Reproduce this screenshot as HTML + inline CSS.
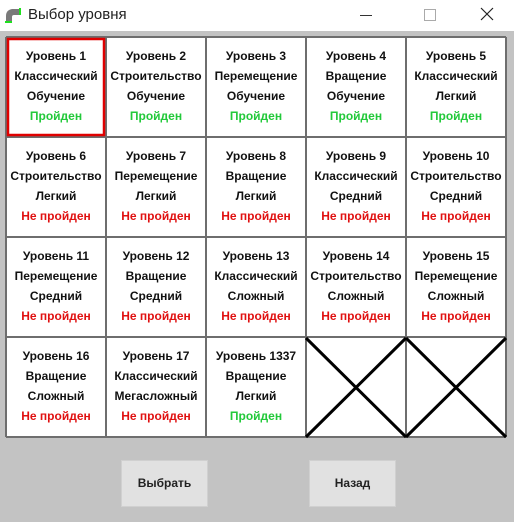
<!DOCTYPE html>
<html><head><meta charset="utf-8"><style>
body{margin:0;width:516px;height:526px;background:#fff;position:relative;overflow:hidden;font-family:"Liberation Sans","DejaVu Sans",sans-serif}
.title{position:absolute;left:28px;top:6px;font-size:15px;color:#222}
.gray{position:absolute;left:0;top:31px;width:514px;height:491px;background:#c3c3c3}
.grid{position:absolute;left:6px;top:37px;width:500px;height:400px;background:#fff}
.cell{position:absolute;width:100px;height:100px;box-sizing:border-box;text-align:center;font-weight:bold;font-size:12px;color:#111}
.cell div{height:20px;line-height:20px}
.g{color:#22c93a}.r{color:#e01010}
.btn{position:absolute;top:460px;width:87px;height:47px;background:#e1e1e1;border:1px solid #d0d0d0;box-sizing:border-box;font-size:12px;font-weight:bold;text-align:center;line-height:45px;color:#222}
</style></head><body>
<svg style="position:absolute;left:3px;top:4px" width="20" height="20"><path d="M3 18 V12 Q3 6 9 5 H16 V11 H11 Q9 11 9 13 V18 Z" fill="#7a7a7a"/><path d="M2 18 H9" stroke="#1ee01e" stroke-width="2"/><path d="M17 4 V11" stroke="#1ee01e" stroke-width="2"/></svg>
<div class="title">Выбор уровня</div>
<div style="position:absolute;left:360px;top:15px;width:12px;height:1px;background:#333"></div>
<div style="position:absolute;left:424px;top:9px;width:10px;height:10px;border:1px solid #aaa"></div>
<svg style="position:absolute;left:480px;top:7px" width="14" height="14"><path d="M1 1L13 13M13 1L1 13" stroke="#222" stroke-width="1.2"/></svg>
<div class="gray"></div>
<div class="grid"></div>
<svg style="position:absolute;left:0;top:0" width="516" height="526">
<g stroke="#6e6e6e" stroke-width="2">
<line x1="6" y1="37" x2="506" y2="37"/><line x1="6" y1="137" x2="506" y2="137"/><line x1="6" y1="237" x2="506" y2="237"/><line x1="6" y1="337" x2="506" y2="337"/><line x1="6" y1="437" x2="506" y2="437"/>
<line x1="6" y1="37" x2="6" y2="437"/><line x1="106" y1="37" x2="106" y2="437"/><line x1="206" y1="37" x2="206" y2="437"/><line x1="306" y1="37" x2="306" y2="437"/><line x1="406" y1="37" x2="406" y2="437"/><line x1="506" y1="37" x2="506" y2="437"/>
</g>
<g stroke="#000" stroke-width="3">
<line x1="306" y1="338" x2="406" y2="437"/><line x1="406" y1="338" x2="306" y2="437"/>
<line x1="406" y1="338" x2="506" y2="437"/><line x1="506" y1="338" x2="406" y2="437"/>
</g>
<rect x="8" y="39" width="96" height="96" fill="none" stroke="#e00000" stroke-width="2.5"/>
</svg>
<div class="cell" style="left:6px;top:46px"><div>Уровень 1</div><div>Классический</div><div>Обучение</div><div class="g">Пройден</div></div>
<div class="cell" style="left:106px;top:46px"><div>Уровень 2</div><div>Строительство</div><div>Обучение</div><div class="g">Пройден</div></div>
<div class="cell" style="left:206px;top:46px"><div>Уровень 3</div><div>Перемещение</div><div>Обучение</div><div class="g">Пройден</div></div>
<div class="cell" style="left:306px;top:46px"><div>Уровень 4</div><div>Вращение</div><div>Обучение</div><div class="g">Пройден</div></div>
<div class="cell" style="left:406px;top:46px"><div>Уровень 5</div><div>Классический</div><div>Легкий</div><div class="g">Пройден</div></div>
<div class="cell" style="left:6px;top:146px"><div>Уровень 6</div><div>Строительство</div><div>Легкий</div><div class="r">Не пройден</div></div>
<div class="cell" style="left:106px;top:146px"><div>Уровень 7</div><div>Перемещение</div><div>Легкий</div><div class="r">Не пройден</div></div>
<div class="cell" style="left:206px;top:146px"><div>Уровень 8</div><div>Вращение</div><div>Легкий</div><div class="r">Не пройден</div></div>
<div class="cell" style="left:306px;top:146px"><div>Уровень 9</div><div>Классический</div><div>Средний</div><div class="r">Не пройден</div></div>
<div class="cell" style="left:406px;top:146px"><div>Уровень 10</div><div>Строительство</div><div>Средний</div><div class="r">Не пройден</div></div>
<div class="cell" style="left:6px;top:246px"><div>Уровень 11</div><div>Перемещение</div><div>Средний</div><div class="r">Не пройден</div></div>
<div class="cell" style="left:106px;top:246px"><div>Уровень 12</div><div>Вращение</div><div>Средний</div><div class="r">Не пройден</div></div>
<div class="cell" style="left:206px;top:246px"><div>Уровень 13</div><div>Классический</div><div>Сложный</div><div class="r">Не пройден</div></div>
<div class="cell" style="left:306px;top:246px"><div>Уровень 14</div><div>Строительство</div><div>Сложный</div><div class="r">Не пройден</div></div>
<div class="cell" style="left:406px;top:246px"><div>Уровень 15</div><div>Перемещение</div><div>Сложный</div><div class="r">Не пройден</div></div>
<div class="cell" style="left:6px;top:346px"><div>Уровень 16</div><div>Вращение</div><div>Сложный</div><div class="r">Не пройден</div></div>
<div class="cell" style="left:106px;top:346px"><div>Уровень 17</div><div>Классический</div><div>Мегасложный</div><div class="r">Не пройден</div></div>
<div class="cell" style="left:206px;top:346px"><div>Уровень 1337</div><div>Вращение</div><div>Легкий</div><div class="g">Пройден</div></div>
<div class="btn" style="left:121px">Выбрать</div>
<div class="btn" style="left:309px">Назад</div>
</body></html>
